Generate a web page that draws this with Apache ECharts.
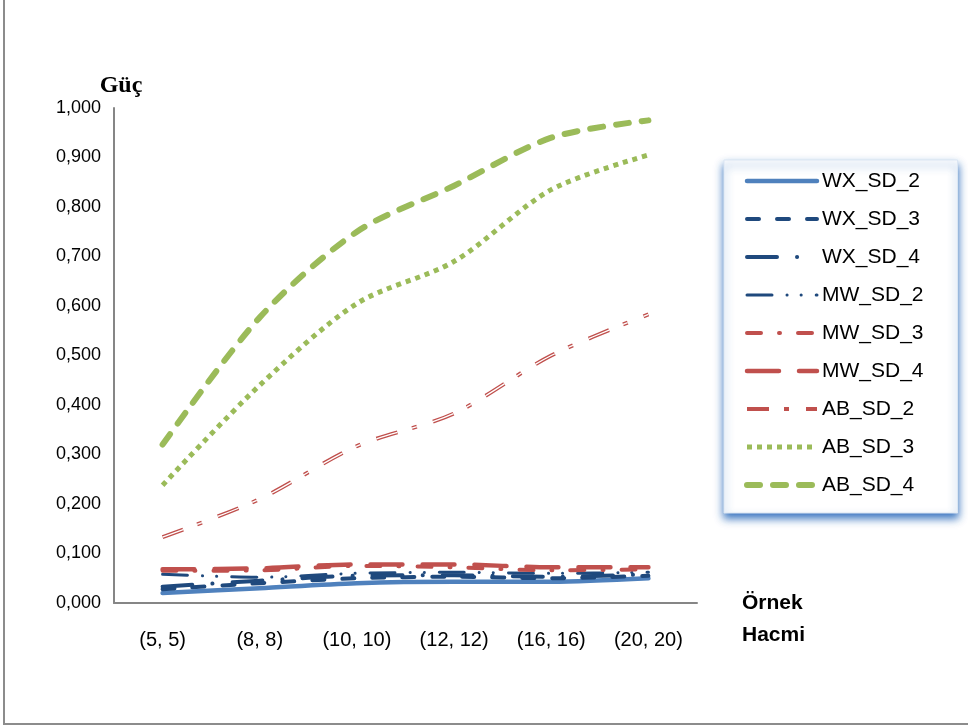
<!DOCTYPE html>
<html>
<head>
<meta charset="utf-8">
<script src="https://cdn.jsdelivr.net/npm/echarts@6/dist/echarts.min.js"></script>
<style>
html,body{margin:0;padding:0;background:#fff;}
#main{width:968px;height:728px;}
</style>
</head>
<body>
<div id="main"></div>
<script>
var categories = ['(5, 5)', '(8, 8)', '(10, 10)', '(12, 12)', '(16, 16)', '(20, 20)'];
var WX_SD_2 = [0.020, 0.030, 0.040, 0.043, 0.043, 0.050];
var WX_SD_3 = [0.028, 0.040, 0.050, 0.053, 0.050, 0.055];
var WX_SD_4 = [0.033, 0.045, 0.055, 0.056, 0.053, 0.058];
var MW_SD_2 = [0.058, 0.052, 0.060, 0.062, 0.060, 0.062];
var MW_SD_3 = [0.065, 0.066, 0.075, 0.072, 0.066, 0.068];
var MW_SD_4 = [0.068, 0.070, 0.078, 0.078, 0.072, 0.072];
var AB_SD_2 = [0.133, 0.210, 0.317, 0.383, 0.500, 0.583];
var AB_SD_3 = [0.238, 0.440, 0.605, 0.690, 0.835, 0.905];
var AB_SD_4 = [0.320, 0.577, 0.750, 0.843, 0.940, 0.975];
var seriesNames = ['WX_SD_2','WX_SD_3','WX_SD_4','MW_SD_2','MW_SD_3','MW_SD_4','AB_SD_2','AB_SD_3','AB_SD_4'];

var BLUE = '#4F81BD', DBLUE = '#1F497D', RED = '#C0504D', GREEN = '#9BBB59';

var styles = {
  WX_SD_2: { color: BLUE,  width: 4.5, type: 'solid', cap: 'round' },
  WX_SD_3: { color: DBLUE, width: 4,   type: [12, 18], cap: 'round' },
  WX_SD_4: { color: DBLUE, width: 4,   type: [30, 20, 0.1, 20], cap: 'round' },
  MW_SD_2: { color: DBLUE, width: 3,   type: [25, 15, 0.1, 14, 0.1, 15], cap: 'round' },
  MW_SD_3: { color: RED,   width: 4,   type: [14, 18, 1, 18], cap: 'round' },
  MW_SD_4: { color: RED,   width: 4.5, type: [32, 20], cap: 'round' },
  AB_SD_2: { color: RED,   width: 4,   type: [22, 15, 5, 17], cap: 'butt' },
  AB_SD_3: { color: GREEN, width: 5,   type: [5, 5], cap: 'butt' },
  AB_SD_4: { color: GREEN, width: 6,   type: [13, 13], cap: 'round' }
};

function mk(name, data, st) {
  return {
    name: name, type: 'line', data: data, smooth: 0.3, symbol: 'none',
    lineStyle: { color: st.color, width: st.width, type: st.type, cap: st.cap, join: 'round' },
    itemStyle: { color: st.color },
    emphasis: { disabled: true }
  };
}

var series = [
  mk('WX_SD_2', WX_SD_2, styles.WX_SD_2),
  mk('WX_SD_3', WX_SD_3, styles.WX_SD_3),
  mk('WX_SD_4', WX_SD_4, styles.WX_SD_4),
  mk('MW_SD_2', MW_SD_2, styles.MW_SD_2),
  mk('MW_SD_3', MW_SD_3, styles.MW_SD_3),
  mk('MW_SD_4', MW_SD_4, styles.MW_SD_4),
  mk('AB_SD_2', AB_SD_2, styles.AB_SD_2),
  mk('AB_SD_2', AB_SD_2, { color: '#ffffff', width: 1.3, type: [22, 15, 5, 17], cap: 'butt' }),
  mk('AB_SD_3', AB_SD_3, styles.AB_SD_3),
  mk('AB_SD_4', AB_SD_4, styles.AB_SD_4)
];

var legendData = seriesNames.map(function (n) {
  var st = styles[n];
  return { name: n, lineStyle: { color: st.color, width: st.width, type: st.type, cap: st.cap } };
});

var chart = echarts.init(document.getElementById('main'), null, { renderer: 'canvas' });
chart.setOption({
  animation: false,
  backgroundColor: '#ffffff',
  graphic: [{
    type: 'rect', silent: true, z: -10,
    shape: { x: 4, y: -4, width: 980, height: 728 },
    style: { fill: 'none', stroke: '#8c8c8c', lineWidth: 2 }
  }],
  grid: { left: 114, top: 108, right: 271, bottom: 125, containLabel: false },
  legend: {
    data: legendData,
    orient: 'vertical',
    left: 724, top: 160,
    width: 234,
    padding: [9, 34, 16, 20],
    itemWidth: 70, itemHeight: 18, itemGap: 14,
    backgroundColor: '#ffffff',
    borderColor: '#dbe6f3', borderWidth: 1,
    shadowColor: 'rgba(20,90,180,0.85)', shadowBlur: 8, shadowOffsetY: 5,
    textStyle: { fontFamily: 'Liberation Sans', fontSize: 21, color: '#000', lineHeight: 24 },
    selectedMode: false,
    itemStyle: { opacity: 0 }
  },
  xAxis: {
    type: 'category', data: categories, boundaryGap: true,
    axisLine: { lineStyle: { color: '#868686', width: 2 } },
    axisTick: { show: false },
    axisLabel: { fontFamily: 'Liberation Sans', fontSize: 20, color: '#000', margin: 27, interval: 0 },
    name: '\nÖrnek\nHacmi',
    nameLocation: 'end', nameGap: 45,
    nameTextStyle: { fontFamily: 'Liberation Sans', fontWeight: 'bold', fontSize: 21, color: '#000',
      align: 'left', verticalAlign: 'middle', lineHeight: 32 }
  },
  yAxis: {
    type: 'value', min: 0, max: 1, interval: 0.1,
    axisLine: { show: true, lineStyle: { color: '#868686', width: 2 } },
    axisTick: { show: false },
    splitLine: { show: false },
    axisLabel: { fontFamily: 'Liberation Sans', fontSize: 18, color: '#000', margin: 13,
      formatter: function (v) { return v.toFixed(3).replace('.', ','); } },
    name: 'Güç', nameLocation: 'end', nameGap: 10,
    nameTextStyle: { fontFamily: 'Liberation Serif', fontWeight: 'bold', fontSize: 24, color: '#000',
      align: 'center', padding: [0, 0, 0, 14] }
  },
  series: series
});
</script>
</body>
</html>
